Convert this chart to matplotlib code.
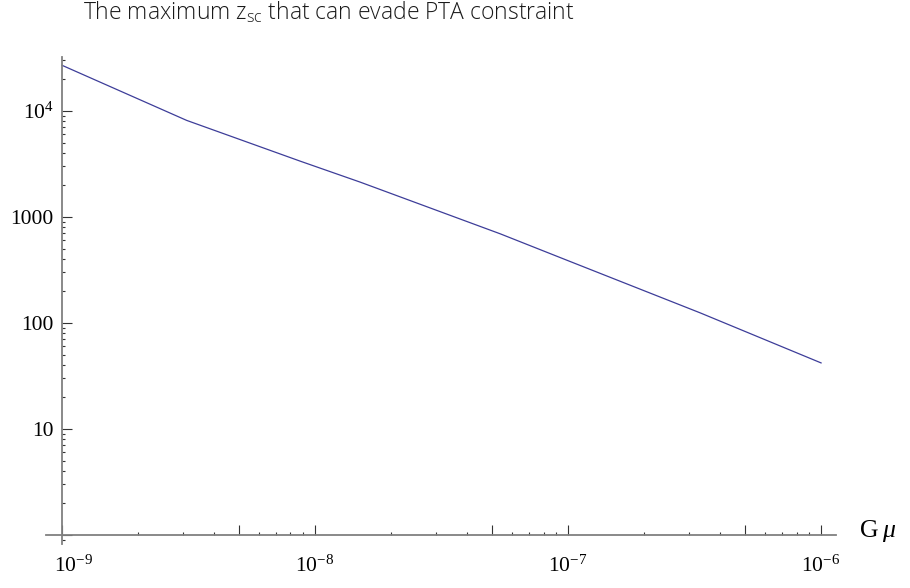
import numpy as np
import matplotlib
matplotlib.use("Agg")
import matplotlib.pyplot as plt
from matplotlib.ticker import LogLocator, FixedLocator, FuncFormatter, NullFormatter

# values (G mu vs max z_sc)
gmu = [1.0e-9, 3.11e-9, 8.73e-9, 1.51e-8, 5.40e-8, 1.0e-7, 3.33e-7, 1.0e-6]
zsc = [26980, 8150, 3365, 2130, 693, 387, 124.5, 42]

x_ticks = [1e-9, 1e-8, 1e-7, 1e-6]
x_labels = [r"$\mathregular{10^{-9}}$", r"$\mathregular{10^{-8}}$",
            r"$\mathregular{10^{-7}}$", r"$\mathregular{10^{-6}}$"]
y_ticks = [10, 100, 1000, 1e4]
y_labels = ["10", "100", "1000", r"$\mathregular{10^{4}}$"]

title = r"The maximum z$_\mathregular{sc}$ that can evade PTA constraint"


def pick(v, ticks, labels):
    # label only the listed ticks (float safe)
    for t, l in zip(ticks, labels):
        if np.isclose(v, t, rtol=1e-6, atol=0):
            return l
    return ""


plt.rcParams["mathtext.fontset"] = "custom"
plt.rcParams["mathtext.rm"] = "Liberation Serif"
plt.rcParams["mathtext.it"] = "Liberation Serif:italic"

W, H = 910, 588
fig = plt.figure(figsize=(W / 100, H / 100), dpi=100)
ax = fig.add_axes([46 / W, 44 / H, (836 - 46) / W, (544 - 57) / H])

ax.plot(gmu, zsc, color="#3d3d99", lw=0.9)

ax.set_xscale("log")
ax.set_yscale("log")
ax.set_xlim(10 ** -9.063, 10 ** -5.941)
ax.set_ylim(10 ** -0.085, 10 ** 4.509)

# Mathematica style axes crossing at (1e-9, 1)
for s in ["top", "right"]:
    ax.spines[s].set_visible(False)
ax.spines["left"].set_position(("data", 1e-9))
ax.spines["bottom"].set_position(("data", 1))
for s in ["left", "bottom"]:
    ax.spines[s].set_color("#808080")
    ax.spines[s].set_linewidth(1.3)

# x ticks: decades and 5s long, others short
x_major = [m * 10.0 ** e for e in range(-9, -5) for m in (1, 5) if m * 10.0 ** e <= 1e-6]
x_minor = [m * 10.0 ** e for e in range(-9, -6) for m in (2, 3, 4, 6, 7, 8, 9)]
ax.xaxis.set_major_locator(FixedLocator(x_major))
ax.xaxis.set_minor_locator(FixedLocator(x_minor))
# the first one is drawn separately, nudged off the y axis
ax.xaxis.set_major_formatter(FuncFormatter(
    lambda v, p: pick(v, x_ticks[1:], x_labels[1:])))
ax.xaxis.set_minor_formatter(NullFormatter())

ax.yaxis.set_major_locator(FixedLocator([1] + y_ticks))
ax.yaxis.set_minor_locator(LogLocator(base=10, subs=(2, 3, 4, 5, 6, 7, 8, 9), numticks=20))
ax.yaxis.set_major_formatter(FuncFormatter(lambda v, p: pick(v, y_ticks, y_labels)))
ax.yaxis.set_minor_formatter(NullFormatter())

ax.tick_params(which="both", direction="in", color="#333333", width=0.8)
ax.tick_params(axis="x", which="major", length=7, pad=14.5)
ax.tick_params(axis="x", which="minor", length=2)
ax.tick_params(axis="y", which="major", length=7.5, pad=6)
ax.tick_params(axis="y", which="minor", length=2.5)
for t in ax.get_xticklabels() + ax.get_yticklabels():
    t.set_fontfamily("Liberation Serif")
    t.set_fontsize(15.5)

ax.annotate(x_labels[0], xy=(1e-9, 1), xytext=(8, -14.5), textcoords="offset points",
            ha="center", va="top", fontsize=15.5, fontfamily="Liberation Serif")

ax.annotate(r"G$\;\mu$", xy=(1, 1), xycoords=("axes fraction", "data"),
            xytext=(16.5, -1.5), textcoords="offset points", ha="left", va="baseline",
            fontsize=18.5, fontfamily="Liberation Serif", annotation_clip=False)

fig.text(83 / W, 1 - 19.5 / H, title, ha="left", va="baseline",
         fontsize=16.5, fontfamily="Open Sans", fontweight="light", color="#1a1a1a")

fig.savefig("out.png", dpi=100)
